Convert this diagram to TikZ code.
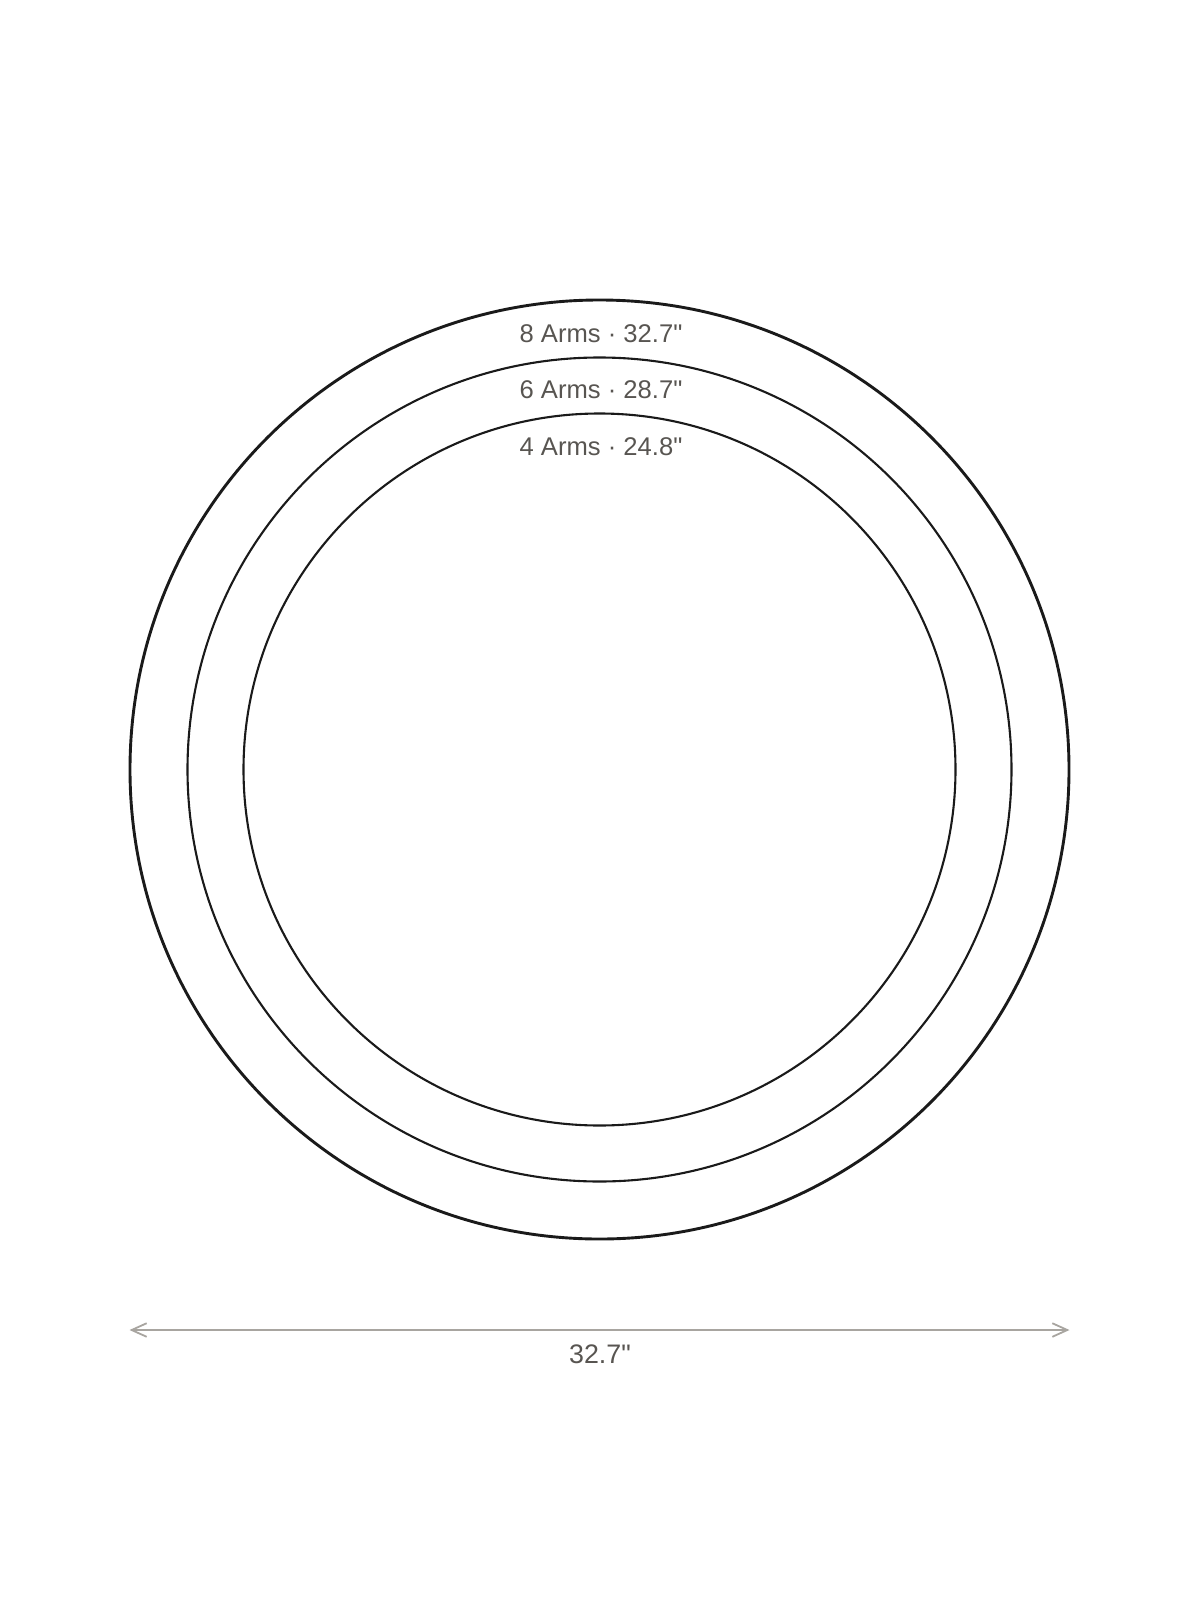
\documentclass[tikz,border=0pt]{standalone}
\usepackage{fontspec}
\newfontfamily\labfont{Liberation Sans}
\usetikzlibrary{arrows.meta}
\definecolor{ringcol}{RGB}{26,26,26}
\definecolor{labcol}{RGB}{88,85,81}
\definecolor{dimcol}{RGB}{168,165,160}
\tikzset{
  ring/.style={circle, draw=ringcol, inner sep=0pt, line width=1.05pt},
  outerring/.style={ring, line width=1.45pt},
  ringlabel/.style={text=labcol, inner sep=0pt, font=\labfont\fontsize{12.8pt}{14pt}\selectfont},
  dimlabel/.style={text=labcol, inner sep=0pt, font=\labfont\fontsize{13.4pt}{15pt}\selectfont},
  dimline/.style={draw=dimcol, line width=0.9pt, {Straight Barb[length=7.5pt,width=6.8pt]}-{Straight Barb[length=7.5pt,width=6.8pt]}},
}
\begin{document}
\begin{tikzpicture}[x=0.5pt,y=-0.5pt]
\useasboundingbox (0,0) rectangle (1200,1600);
\node[outerring, minimum size=469.5pt] (r8) at (599.5,769.5) {};
\node[ring, minimum size=412pt] (r6) at (599.5,769.5) {};
\node[ring, minimum size=356pt] (r4) at (599.5,769.5) {};
\node[ringlabel] (l8) at (601,333.3) {8 Arms · 32.7"};
\node[ringlabel] (l6) at (601,390) {6 Arms · 28.7"};
\node[ringlabel] (l4) at (601,446.7) {4 Arms · 24.8"};
\coordinate (dl) at (129.5,1330);
\coordinate (dr) at (1069.5,1330);
\draw[dimline] (dl) -- (dr);
\node[dimlabel] (dim) at (600,1354.7) {32.7"};
\end{tikzpicture}
\end{document}
